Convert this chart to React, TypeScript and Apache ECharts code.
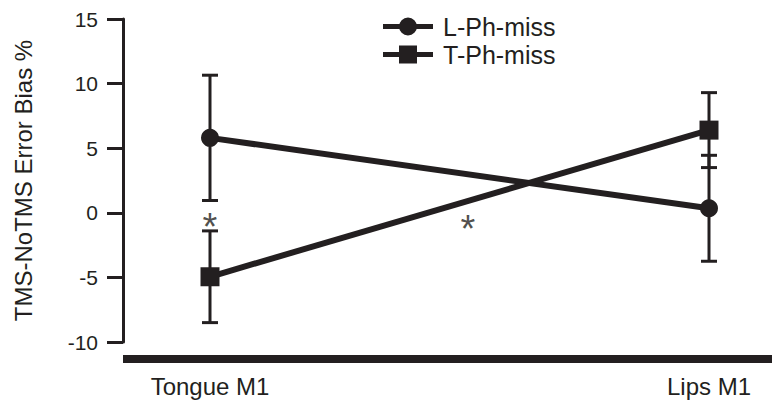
import React, { useEffect, useRef } from "react";
import * as echarts from "echarts";

const categories = ["Tongue M1", "Lips M1"];
const lPhMiss = [5.8, 0.35];
const lPhErr = [4.85, 4.1];
const tPhMiss = [-4.95, 6.4];
const tPhErr = [3.55, 2.9];
const asteriskPos = [
  [0, -0.45],
  [0.517, -0.6],
];
const yMin = -10;
const yMax = 15;
const yStep = 5;

const INK = "#231f20";
const FONT = "'Liberation Sans', Arial, Helvetica, sans-serif";

const ICON_CIRCLE =
  "path://M0,6.5 L50,6.5 L50,11.5 L0,11.5 Z M16,9 A9,9 0 1,1 34,9 A9,9 0 1,1 16,9 Z";
const ICON_SQUARE =
  "path://M0,6.5 L16,6.5 L16,0 L34,0 L34,6.5 L50,6.5 L50,11.5 L34,11.5 L34,18 L16,18 L16,11.5 L0,11.5 Z";

export default function App() {
  const ref = useRef<HTMLDivElement>(null);
  useEffect(() => {
    if (!ref.current) return;
    const chart = echarts.init(ref.current, undefined, { renderer: "svg" });
    const errData = (means: number[], errs: number[]) =>
      means.map((m, i) => [i, m - errs[i], m + errs[i]]);
    const errorSeries = (name: string, means: number[], errs: number[]) => ({
      type: "custom",
      name,
      z: 1,
      silent: true,
      data: errData(means, errs),
      renderItem: (params: any, api: any) => {
        const x = api.value(0);
        const top = api.coord([x, api.value(2)]);
        const bot = api.coord([x, api.value(1)]);
        const hw = 8;
        const st = { stroke: INK, lineWidth: 3 };
        return {
          type: "group",
          children: [
            { type: "line", shape: { x1: top[0], y1: top[1], x2: bot[0], y2: bot[1] }, style: st },
            { type: "line", shape: { x1: top[0] - hw, y1: top[1], x2: top[0] + hw, y2: top[1] }, style: st },
            { type: "line", shape: { x1: bot[0] - hw, y1: bot[1], x2: bot[0] + hw, y2: bot[1] }, style: st },
          ],
        };
      },
    });
    chart.setOption({
      animation: false,
      textStyle: { fontFamily: FONT, color: INK },
      grid: { left: 210, right: 63, top: 19, bottom: 59 },
      legend: {
        data: [
          { name: "L-Ph-miss", icon: ICON_CIRCLE },
          { name: "T-Ph-miss", icon: ICON_SQUARE },
        ],
        orient: "vertical",
        left: 378,
        top: 9,
        itemWidth: 50,
        itemHeight: 18,
        itemGap: 3,
        itemStyle: { color: INK, borderWidth: 0 },
        textStyle: { fontSize: 25, color: INK, fontFamily: FONT, padding: [0, 0, 0, 5] },
      },
      xAxis: {
        type: "value",
        min: 0,
        max: 1,
        interval: 1,
        axisLine: { show: false },
        axisTick: { show: false },
        splitLine: { show: false },
        axisLabel: {
          margin: 32,
          fontSize: 24,
          color: INK,
          fontFamily: FONT,
          formatter: (v: number) => categories[Math.round(v)] ?? "",
        },
      },
      yAxis: {
        type: "value",
        min: yMin,
        max: yMax,
        interval: yStep,
        offset: 87,
        name: "TMS-NoTMS Error Bias %",
        nameLocation: "middle",
        nameRotate: 90,
        nameGap: 88,
        nameTextStyle: { fontSize: 24, color: INK, fontFamily: FONT },
        axisLine: { show: true, onZero: false, lineStyle: { color: INK, width: 3 } },
        axisTick: { show: true, length: 16, lineStyle: { color: INK, width: 3 } },
        splitLine: { show: false },
        axisLabel: { margin: 25, fontSize: 21, color: INK, fontFamily: FONT },
      },
      graphic: [
        { type: "rect", left: 123, top: 355, shape: { width: 649, height: 8 }, style: { fill: INK } },
      ],
      series: [
        errorSeries("errL", lPhMiss, lPhErr),
        errorSeries("errT", tPhMiss, tPhErr),
        {
          type: "line",
          name: "L-Ph-miss",
          z: 3,
          data: lPhMiss.map((v, i) => [i, v]),
          symbol: "circle",
          symbolSize: 18,
          lineStyle: { color: INK, width: 6 },
          itemStyle: { color: INK },
        },
        {
          type: "line",
          name: "T-Ph-miss",
          z: 3,
          data: tPhMiss.map((v, i) => [i, v]),
          symbol: "rect",
          symbolSize: 19,
          lineStyle: { color: INK, width: 6 },
          itemStyle: { color: INK },
        },
        {
          type: "scatter",
          name: "asterisks",
          silent: true,
          z: 4,
          symbol: "circle",
          symbolSize: 2,
          itemStyle: { color: "rgba(0,0,0,0)" },
          data: asteriskPos,
          label: {
            show: true,
            position: "inside",
            formatter: "*",
            fontSize: 38,
            color: INK,
            fontFamily: FONT,
            offset: [0, 8],
          },
        },
      ],
    });
    return () => chart.dispose();
  }, []);
  return (
    <div
      ref={ref}
      style={{ position: "fixed", left: 0, top: 0, width: 772, height: 401, background: "#fff" }}
    />
  );
}
